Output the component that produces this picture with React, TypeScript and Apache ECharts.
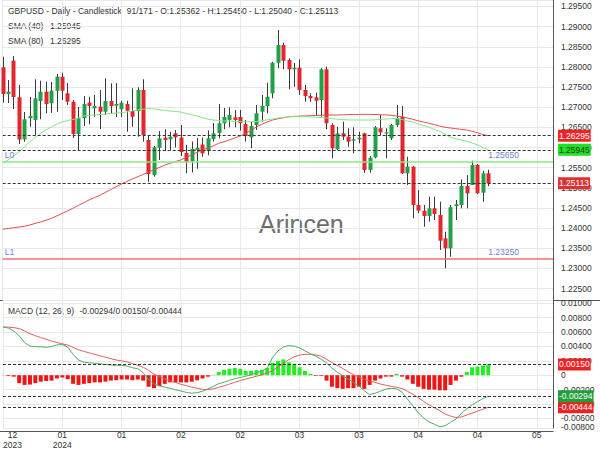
import React, { useEffect, useRef } from 'react';
import * as echarts from 'echarts';

// ---------- data ----------
const open = [1.27991,1.27328,1.28155,1.27247,1.26204,1.26726,1.26683,1.27155,1.27386,1.27098,
1.2741,1.27758,1.27346,1.27137,1.26336,1.26733,1.27113,1.26974,1.27013,1.26889,
1.27155,1.27038,1.26949,1.2708,1.26907,1.26907,1.27428,1.26187,1.25319,1.25994,
1.26244,1.26204,1.26353,1.26249,1.25864,1.25659,1.25939,1.26075,1.25914,1.26207,
1.26361,1.26601,1.26683,1.26751,1.26758,1.26584,1.26254,1.26559,1.26889,1.27031,
1.27346,1.28105,1.28544,1.28172,1.27941,1.27981,1.27428,1.27279,1.27247,1.2718,
1.27941,1.26559,1.25956,1.26353,1.26269,1.2617,1.26204,1.26353,1.25443,1.25758,
1.26477,1.26353,1.26229,1.26559,1.26765,1.25361,1.25525,1.24574,1.24433,1.24301,
1.24492,1.24326,1.23748,1.235,1.24549,1.24574,1.25046,1.2507,1.25567,1.24879,
1.25362];
const close = [1.27328,1.27386,1.27254,1.26199,1.26701,1.26783,1.27222,1.27386,1.2708,1.2741,
1.27758,1.2741,1.27137,1.26336,1.26726,1.2708,1.27031,1.27031,1.26889,1.27155,
1.27031,1.2708,1.27113,1.26914,1.26765,1.27428,1.26311,1.25343,1.26006,1.26229,
1.26187,1.26269,1.26254,1.25889,1.25649,1.25969,1.25994,1.25857,1.26229,1.26353,
1.26601,1.26758,1.26807,1.26683,1.26609,1.26286,1.26534,1.2685,1.27031,1.27261,
1.28105,1.28544,1.28155,1.27941,1.27981,1.27428,1.27279,1.27222,1.27162,1.27941,
1.26601,1.25981,1.26353,1.26269,1.26145,1.26204,1.26244,1.25443,1.25748,1.26502,
1.26378,1.26378,1.26559,1.26726,1.25361,1.25525,1.24574,1.24433,1.24301,1.24492,
1.24351,1.23688,1.235,1.24517,1.24592,1.25046,1.24864,1.25567,1.24864,1.25361,
1.25113];
const high = [1.28254,1.27676,1.28271,1.27552,1.26882,1.27254,1.27693,1.27659,1.27634,1.27626,
1.27825,1.27857,1.27601,1.2718,1.27006,1.27279,1.27261,1.27304,1.27428,1.27718,
1.27594,1.27601,1.27162,1.27162,1.2747,1.27495,1.27693,1.26286,1.26038,1.2641,
1.26453,1.26393,1.26435,1.26559,1.26063,1.2615,1.26237,1.26249,1.26423,1.26609,
1.2708,1.26981,1.26999,1.26931,1.26931,1.26683,1.26641,1.27056,1.27304,1.27609,
1.28125,1.28917,1.28601,1.28214,1.28098,1.2819,1.27552,1.27346,1.27361,1.27966,
1.28006,1.26601,1.26517,1.26641,1.26477,1.26502,1.26393,1.26368,1.2579,1.26534,
1.26807,1.26477,1.26584,1.27056,1.27031,1.25773,1.2554,1.24946,1.24574,1.2478,
1.2478,1.24656,1.23912,1.24574,1.24698,1.25212,1.25319,1.25674,1.25592,1.25425,
1.2545];
const low = [1.27113,1.27105,1.26956,1.26088,1.26145,1.26517,1.26311,1.26701,1.2685,1.26857,
1.26889,1.2718,1.27056,1.26237,1.25939,1.26534,1.26577,1.26758,1.2646,1.26807,
1.2685,1.26758,1.26751,1.26393,1.26517,1.26269,1.26145,1.25152,1.25277,1.25691,
1.25921,1.25939,1.26001,1.2579,1.25361,1.25381,1.25475,1.25773,1.25808,1.26145,
1.26229,1.26453,1.26502,1.26502,1.26418,1.26145,1.25981,1.26435,1.26641,1.2685,
1.27222,1.27966,1.27941,1.27445,1.2751,1.27304,1.27137,1.27137,1.26807,1.26765,
1.26453,1.25733,1.25939,1.26187,1.26021,1.25857,1.26105,1.25376,1.25376,1.25733,
1.26311,1.25733,1.26187,1.2651,1.25343,1.2507,1.24244,1.24368,1.24036,1.2416,
1.24202,1.23458,1.23003,1.23291,1.24202,1.24492,1.24492,1.25196,1.24847,1.24656,
1.2504];
const sma40 = [1.25604,1.25691,1.2579,1.25889,1.26013,1.26137,1.26249,1.26348,1.26435,1.2651,
1.26584,1.26634,1.26671,1.26696,1.26733,1.26783,1.268,1.26807,1.2682,1.26832,
1.26845,1.26857,1.26869,1.26882,1.26907,1.26931,1.26949,1.26969,1.26961,1.26936,
1.26919,1.26907,1.26894,1.26882,1.26845,1.26812,1.26783,1.26745,1.26708,1.26683,
1.26671,1.26659,1.26659,1.26651,1.26646,1.26639,1.26641,1.26646,1.26663,1.26688,
1.26708,1.26733,1.26745,1.26763,1.26768,1.26768,1.26765,1.26758,1.26753,1.26748,
1.26733,1.26718,1.26703,1.26693,1.26686,1.26683,1.26683,1.26683,1.26683,1.26688,
1.26698,1.26708,1.26718,1.26723,1.26696,1.26663,1.26634,1.26584,1.26547,1.2651,
1.26448,1.26403,1.26324,1.26254,1.26217,1.26187,1.26155,1.26113,1.26068,1.26001,
1.25945];
const sma80 = [1.23974,1.23991,1.24008,1.24028,1.24046,1.24078,1.24115,1.24152,1.24195,1.24239,
1.24301,1.24363,1.24425,1.24492,1.24562,1.24629,1.24698,1.24758,1.24815,1.24884,
1.24954,1.25028,1.25095,1.25157,1.25219,1.25274,1.25331,1.25388,1.25448,1.25505,
1.25562,1.25609,1.25651,1.25691,1.25753,1.25815,1.25882,1.25939,1.25989,1.26038,
1.26105,1.26142,1.26187,1.26237,1.26286,1.26348,1.26423,1.2651,1.26577,1.26634,
1.26683,1.26713,1.2674,1.26763,1.26773,1.2678,1.26785,1.2679,1.26795,1.268,
1.26805,1.26807,1.26807,1.26812,1.26817,1.2682,1.26822,1.26825,1.26822,1.2682,
1.26815,1.2681,1.268,1.26783,1.26763,1.26733,1.26701,1.26663,1.26634,1.26601,
1.26569,1.26534,1.26502,1.26485,1.26468,1.2645,1.26435,1.26403,1.26366,1.26324,
1.26295];
const macdLine = [0.00672,0.00655,0.00615,0.00547,0.00453,0.00405,0.00396,0.00395,0.00388,0.00399,
0.00422,0.00426,0.00392,0.0029,0.0021,0.00182,0.00172,0.00166,0.00158,0.00149,
0.00142,0.00138,0.00135,0.00128,0.00104,0.0009,0.00034,-0.00061,-0.00122,-0.00149,
-0.00165,-0.00182,-0.00203,-0.0022,-0.00239,-0.0025,-0.00243,-0.00223,-0.00191,-0.00155,
-0.00119,-0.00095,-0.00072,-0.00047,-0.00032,-0.00014,0.00004,0.00034,0.00061,0.00095,
0.0025,0.00338,0.00392,0.00412,0.00405,0.00378,0.00338,0.003,0.00264,0.00223,
0.00169,0.00101,0.00041,-0.00007,-0.00054,-0.00101,-0.00149,-0.00216,-0.0027,-0.0025,
-0.00223,-0.00193,-0.00182,-0.00189,-0.00236,-0.00331,-0.00426,-0.0052,-0.00595,-0.00649,
-0.00682,-0.00716,-0.00703,-0.00655,-0.00608,-0.00534,-0.00466,-0.00412,-0.00368,-0.00324,
-0.00294];
const signalLine = [0.0067,0.00669,0.00662,0.00649,0.00615,0.00577,0.0055,0.00523,0.005,0.00476,
0.00455,0.00436,0.0042,0.00388,0.00354,0.00331,0.00311,0.0029,0.0027,0.0025,
0.0023,0.00212,0.00199,0.00185,0.00162,0.00138,0.00111,0.00068,0.00016,-0.00018,
-0.00051,-0.00081,-0.00101,-0.00126,-0.00145,-0.00166,-0.00182,-0.00196,-0.00203,-0.00189,
-0.00169,-0.00149,-0.00122,-0.00099,-0.00074,-0.00054,-0.00034,-0.00015,0.00004,0.0003,
0.00064,0.00115,0.00162,0.00216,0.00257,0.0028,0.0029,0.0029,0.00282,0.00264,
0.00223,0.00176,0.00135,0.00095,0.00047,0.00007,-0.00027,-0.00054,-0.00081,-0.00101,
-0.00122,-0.00139,-0.00155,-0.00169,-0.00186,-0.00223,-0.00264,-0.00311,-0.00365,-0.00412,
-0.00453,-0.00493,-0.0054,-0.00568,-0.00588,-0.00581,-0.00554,-0.00527,-0.005,-0.00473,
-0.00444];
const histogram = [-0.00002,-0.0001,-0.0002,-0.0011,-0.00135,-0.0013,-0.0011,-0.0009,-0.0008,-0.00075,
-0.00045,-0.0003,-0.00055,-0.0012,-0.00135,-0.0012,-0.0011,-0.001,-0.001,-0.0009,
-0.00075,-0.0007,-0.0006,-0.0006,-0.0007,-0.0006,-0.00075,-0.0016,-0.0018,-0.0015,
-0.0012,-0.001,-0.001,-0.001,-0.001,-0.0009,-0.0007,-0.00045,-0.0002,0.00005,
0.00045,0.00075,0.0009,0.001,0.0009,0.0006,0.0006,0.0007,0.00075,0.001,
0.0017,0.002,0.0022,0.0018,0.0016,0.0011,0.0006,0.0002,-0.0001,-0.0001,
-0.00075,-0.0016,-0.0018,-0.0019,-0.0018,-0.0018,-0.0016,-0.0019,-0.00135,-0.00075,
-0.00045,-0.0002,-0.0002,0.0002,-0.0002,-0.0006,-0.0012,-0.0016,-0.0019,-0.002,
-0.002,-0.0021,-0.0021,-0.00135,-0.00075,-0.0002,0.00045,0.0011,0.0012,0.00135,
0.0015];
const xTickLabels = ['12\n2023', '01\n2024', '01', '02', '02', '03', '03', '04', '04', '05'];
const levelL0 = 1.2565;
const levelL1 = 1.2325;
const barsShown = 91;
const barsTotal = 171;

// ---------- layout / style ----------
const TICK_STEP = 11;
const SLOTS = 103;
const PRICE_MIN = 1.22217;
const PRICE_MAX = 1.29661;
const MACD_MIN = -0.00734;
const MACD_MAX = 0.01046;
const FONT = 'Liberation Sans, Arial, sans-serif';
const FS = 8.5;
const UP = '#22a049';
const DOWN = '#e3262d';
const GRID_C = '#e8e8e8';
const LEVEL_TXT = '#6b82d6';

const f5 = (v: number) => v.toFixed(5);

export default function App() {
  const ref = useRef<HTMLDivElement>(null);
  useEffect(() => {
    if (!ref.current) return;
    const chart = echarts.init(ref.current, undefined, { renderer: 'svg' });
    const cats = Array.from({ length: SLOTS }, (_, i) => 'c' + i);
    const candleData = open.map((o, i) => [i, o, close[i], low[i], high[i]]);
    const last = open.length - 1;
    const tickFn = (i: number) => i % TICK_STEP === 0;
    const dashed = { type: [3, 2] as any, color: '#333', width: 1 };
    const tag = (v: number, bg: string, fg: string) => ({
      yAxis: v,
      lineStyle: dashed,
      label: {
        show: true, position: 'end', distance: 5, formatter: f5(v),
        backgroundColor: bg, color: fg, padding: [2, 1, 1, 1], fontSize: FS, fontFamily: FONT,
      },
    });
    const level = (v: number, name: string, color: string) => [
      {
        yAxis: v, lineStyle: { type: 'solid', color, width: 1.5 },
        label: { show: true, position: 'insideEndTop', distance: [34, 2], formatter: f5(v), color: LEVEL_TXT, fontSize: FS, fontFamily: FONT },
      },
      {
        yAxis: v, lineStyle: { type: 'solid', color: 'rgba(0,0,0,0)', width: 1 },
        label: { show: true, position: 'insideStartTop', distance: [2, 2], formatter: name, color: LEVEL_TXT, fontSize: FS, fontFamily: FONT, opacity: 1 },
      },
    ];
    const mark = (data: any[]) => ({
      silent: true, symbol: ['none', 'none'], animation: false, precision: 6, data,
    });
    const xAxisBase = {
      type: 'category', data: cats, boundaryGap: false,
      axisLine: { show: false }, axisTick: { show: false },
      splitLine: { show: true, interval: tickFn, lineStyle: { color: GRID_C } },
    };
    const yLabel = { color: '#333', fontSize: FS, fontFamily: FONT, margin: 8, showMinLabel: false, showMaxLabel: false };
    const legendText = (x: number, y: number, text: string, extra: any = {}) => ({
      type: 'text', x, y, silent: true,
      style: { text, fill: '#333', fontSize: FS, fontFamily: FONT, verticalAlign: 'middle', ...extra },
    });

    const option: any = {
      animation: false,
      textStyle: { fontFamily: FONT },
      grid: [
        { left: 2.7, right: 47, top: 0, height: 300 },
        { left: 2.7, right: 47, top: 300, height: 131 },
      ],
      xAxis: [
        { ...xAxisBase, gridIndex: 0, axisLabel: { show: false } },
        {
          ...xAxisBase, gridIndex: 1,
          axisLabel: {
            show: true, interval: tickFn, color: '#333', fontSize: FS, lineHeight: 10, margin: 2,
            fontFamily: FONT, alignMinLabel: 'left',
            formatter: (_v: string, idx: number) => {
              const t = xTickLabels[Math.round(idx / TICK_STEP)] || '';
              if (idx === 0) return t.split('\n').map((s) => '{c|' + s + '}').join('\n');
              return t;
            },
            rich: { c: { width: 19, align: 'center', fontSize: FS, lineHeight: 10, color: '#333' } },
          },
        },
      ],
      yAxis: [
        {
          type: 'value', gridIndex: 0, position: 'right', min: PRICE_MIN, max: PRICE_MAX, splitNumber: 15,
          axisLine: { show: true, lineStyle: { color: '#555' } }, axisTick: { show: false },
          axisLabel: { ...yLabel, formatter: (v: number) => f5(v) },
          splitLine: { show: true, lineStyle: { color: GRID_C } },
        },
        {
          type: 'value', gridIndex: 1, position: 'right', min: MACD_MIN, max: MACD_MAX, splitNumber: 9,
          axisLine: { show: true, lineStyle: { color: '#555' } }, axisTick: { show: false },
          axisLabel: { ...yLabel, formatter: (v: number) => (Math.abs(v) < 1e-10 ? '0' : f5(v)) },
          splitLine: { show: true, lineStyle: { color: GRID_C } },
        },
      ],
      series: [
        {
          type: 'custom', xAxisIndex: 0, yAxisIndex: 0, data: candleData, z: 3,
          encode: { x: 0, y: [1, 2, 3, 4] },
          renderItem: (_p: any, api: any) => {
            const i = api.value(0);
            const o = api.value(1), c = api.value(2), l = api.value(3), h = api.value(4);
            const pO = api.coord([i, o]);
            const pC = api.coord([i, c]);
            const pL = api.coord([i, l]);
            const pH = api.coord([i, h]);
            const x = Math.round(pO[0]) + 0.5;
            const w = 4;
            const top = Math.min(pO[1], pC[1]);
            const bot = Math.max(pO[1], pC[1]);
            return {
              type: 'group',
              children: [
                { type: 'line', shape: { x1: x, y1: pH[1], x2: x, y2: pL[1] }, style: { stroke: '#3a3a3a', lineWidth: 1 } },
                { type: 'rect', shape: { x: x - w / 2, y: top, width: w, height: Math.max(bot - top, 1.2) }, style: { fill: c >= o ? UP : DOWN } },
              ],
            };
          },
        },
        {
          type: 'line', xAxisIndex: 0, yAxisIndex: 0, data: sma80, showSymbol: false, z: 4,
          lineStyle: { color: '#e05050', width: 1 },
          markLine: mark([
            tag(sma80[last], '#ee2424', '#ffffff'),
            tag(close[last], '#dd3030', '#ffffff'),
            ...level(levelL0, 'L0', '#84ee84'),
            ...level(levelL1, 'L1', '#f07070'),
          ]),
        },
        {
          type: 'line', xAxisIndex: 0, yAxisIndex: 0, data: sma40, showSymbol: false, z: 4,
          lineStyle: { color: '#84e884', width: 1 },
          markLine: mark([tag(sma40[last], '#22e022', '#1a3a1a')]),
        },
        {
          type: 'bar', xAxisIndex: 1, yAxisIndex: 1, data: histogram, barWidth: 4,
          itemStyle: { color: (p: any) => (p.value >= 0 ? '#22ee22' : '#ee1515') },
          markLine: mark([tag(histogram[last], '#ee2222', '#ffffff')]),
        },
        {
          type: 'line', xAxisIndex: 1, yAxisIndex: 1, data: signalLine, showSymbol: false,
          lineStyle: { color: '#e06060', width: 1 },
          markLine: mark([tag(signalLine[last], '#ee2222', '#ffffff')]),
        },
        {
          type: 'line', xAxisIndex: 1, yAxisIndex: 1, data: macdLine, showSymbol: false,
          lineStyle: { color: '#4caf65', width: 1 },
          markLine: mark([tag(macdLine[last], '#1f9e3a', '#ffffff')]),
        },
      ],
      graphic: [
        legendText(8, 10.7, 'GBPUSD - Daily - Candlestick'),
        legendText(126.7, 10.7, `${barsShown}/${barsTotal} - O:${f5(open[last])} - H:${f5(high[last])} - L:${f5(low[last])} - C:${f5(close[last])}`),
        legendText(8, 25.7, 'SMA (40)'),
        legendText(50, 25.7, f5(sma40[last])),
        legendText(8, 40.7, 'SMA (80)'),
        legendText(50, 40.7, f5(sma80[last])),
        legendText(8, 311, 'MACD (12, 26, 9)'),
        legendText(79.5, 311, `${f5(macdLine[last])}/${f5(histogram[last])}/${f5(signalLine[last])}`),
        legendText(561, 427, '-0.00800'),
        { type: 'text', x: 259, y: 224, silent: true, style: { text: 'Arincen', fill: '#6e6e6e', fontSize: 25, fontFamily: FONT, verticalAlign: 'middle' } },
        { type: 'line', silent: true, shape: { x1: 0, y1: 300.5, x2: 600, y2: 300.5 }, style: { stroke: '#555', lineWidth: 1 } },
        { type: 'line', silent: true, shape: { x1: 0, y1: 431.5, x2: 553.5, y2: 431.5 }, style: { stroke: '#555', lineWidth: 1 } },
      ],
    };
    chart.setOption(option);
    return () => chart.dispose();
  }, []);
  return <div ref={ref} style={{ width: 600, height: 450, position: 'absolute', left: 0, top: 0, background: '#fff' }} />;
}
